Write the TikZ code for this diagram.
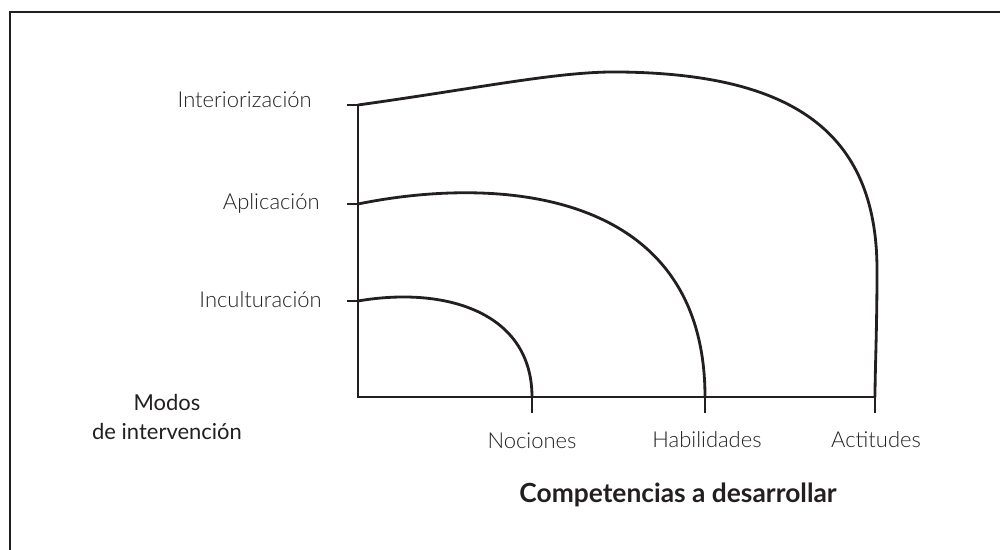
\documentclass[tikz,border=0pt]{standalone}
\usepackage{fontspec}
\setmainfont{Lato}
\newfontfamily\ligera{Lato Light}
\usetikzlibrary{positioning}
\definecolor{tinta}{RGB}{35,31,32}

\begin{document}
\begin{tikzpicture}[x=0.02cm, y=-0.02cm, tinta,
    eje/.style={line width=1.1pt},
    curva/.style={line width=1.6pt, line cap=round},
    etiqueta/.style={font=\ligera\fontsize{12.5}{15}\selectfont, inner sep=0pt}]

    \useasboundingbox (0,0) rectangle (1000,550);
    \draw[line width=1.5pt] (10,550) -- (10,12) -- (1000,12);

    % ejes
    \coordinate (O) at (358,397);
    \coordinate (yint) at (358,105);
    \coordinate (yapl) at (358,204);
    \coordinate (yinc) at (358,301);
    \coordinate (xnoc) at (532,397);
    \coordinate (xhab) at (705,397);
    \coordinate (xact) at (875,397);

    \draw[eje] (yint) -- (O) -- (xact);
    \foreach \c in {yint, yapl, yinc}
        \draw[eje] (\c) -- ++(-11,0);
    \foreach \c in {xnoc, xhab, xact}
        \draw[eje] (\c) -- ++(0,16);

    % curvas
    \draw[curva] (yinc) .. controls (445,286) and (532,312) .. (xnoc);
    \draw[curva] (yapl) .. controls (500,175) and (705,190) .. (xhab);
    \draw[curva] (yint) .. controls (480,88) and (560,71) .. (620,72)
        .. controls (790,74) and (877,130) .. (877,270)
        .. controls (877,330) and (875,370) .. (xact);

    % textos
    \node[etiqueta, anchor=east] (int) at (312,100) {Interiorización};
    \node[etiqueta, anchor=east] (apl) at (320,203) {Aplicación};
    \node[etiqueta, anchor=east] (inc) at (322,300) {Inculturación};
    \node[etiqueta] (noc) at (532,441) {Nociones};
    \node[etiqueta] (hab) at (707,440) {Habilidades};
    \node[etiqueta] (act) at (876,440) {Actitudes};
    \node[font=\fontsize{12.5}{17}\selectfont, align=center] (modos) at (167,417) {Modos\\de intervención};
    \node[font=\bfseries\fontsize{15}{18}\selectfont] (comp) at (678,495) {Competencias a desarrollar};

\end{tikzpicture}
\end{document}
